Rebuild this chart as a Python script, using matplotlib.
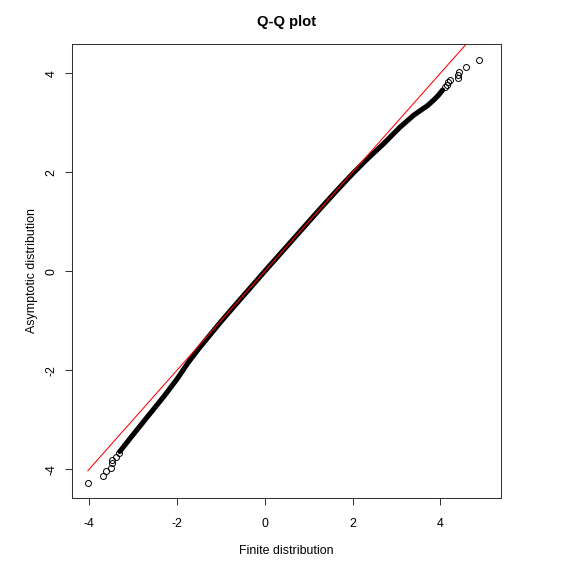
import matplotlib
matplotlib.use("Agg")
import matplotlib.pyplot as plt
import numpy as np

plt.rcParams["font.family"] = ["Liberation Sans", "DejaVu Sans"]

# quantile pairs
# dense middle of the cloud (drawn as a thick band)
body_x = [-3.30, -3.07, -2.69, -2.29, -2.00, -1.74, -1.50, -1.00, -0.60, 0.00,
          0.60, 1.26, 1.64, 2.00, 2.35, 2.70, 3.08, 3.39, 3.55, 3.70, 3.85,
          3.95, 4.05]
body_y = [-3.64, -3.38, -2.96, -2.52, -2.18, -1.84, -1.56, -1.02, -0.61, 0.00,
          0.60, 1.26, 1.63, 1.97, 2.28, 2.57, 2.91, 3.15, 3.25, 3.34, 3.46,
          3.55, 3.66]
# sparse tails (single points)
low_x = [-4.03, -3.68, -3.62, -3.51, -3.49, -3.47, -3.39, -3.31]
low_y = [-4.28, -4.13, -4.03, -3.97, -3.88, -3.81, -3.75, -3.68]
high_x = [4.10, 4.15, 4.18, 4.22, 4.41, 4.40, 4.43, 4.59, 4.89]
high_y = [3.72, 3.76, 3.83, 3.86, 3.90, 3.97, 4.02, 4.12, 4.27]

ticks = [-4, -2, 0, 2, 4]

W, H = 573, 572
fig = plt.figure(figsize=(W / 100, H / 100), dpi=100)
ax = fig.add_axes([72 / W, 1 - 498 / H, (501 - 72) / W, (498 - 44) / H])

ax.plot(body_x, body_y, color="black", lw=3.7, solid_capstyle="round",
        solid_joinstyle="round")
tail_x = low_x + high_x
tail_y = low_y + high_y
ax.plot(tail_x, tail_y, ls="none", marker="o", ms=4.3, mfc="none",
        mec="black", mew=0.7)

# reference line y = x over the range of the finite quantiles
all_x = np.array(low_x + body_x + high_x)
xr = np.array([all_x.min(), all_x.max()])
ax.plot(xr, xr, color="#ff0000", lw=0.75)

ax.set_xlim(-4.39, 5.38)
ax.set_ylim(-4.58, 4.59)
ax.set_xticks(ticks)
ax.set_yticks(ticks)
ax.set_xticklabels([str(t) for t in ticks])
ax.set_yticklabels([str(t) for t in ticks], rotation=90, va="center")
ax.tick_params(direction="out", length=5, width=0.75, labelsize=8.9,
               color="#333333")
ax.tick_params(axis="x", pad=9.3)
ax.tick_params(axis="y", pad=5.5)
for s in ax.spines.values():
    s.set_linewidth(0.75)
    s.set_color("#333333")

fig.text(286.5 / W, 1 - 21.7 / H, "Q-Q plot", ha="center", va="center",
         fontsize=10.7, fontweight="bold")
fig.text(286.5 / W, 1 - 550.7 / H, "Finite distribution", ha="center",
         va="center", fontsize=8.9)
fig.text(31.7 / W, 1 - 271 / H, "Asymptotic distribution", ha="center",
         va="center", rotation=90, fontsize=8.9)

fig.savefig("out.png", dpi=100)
